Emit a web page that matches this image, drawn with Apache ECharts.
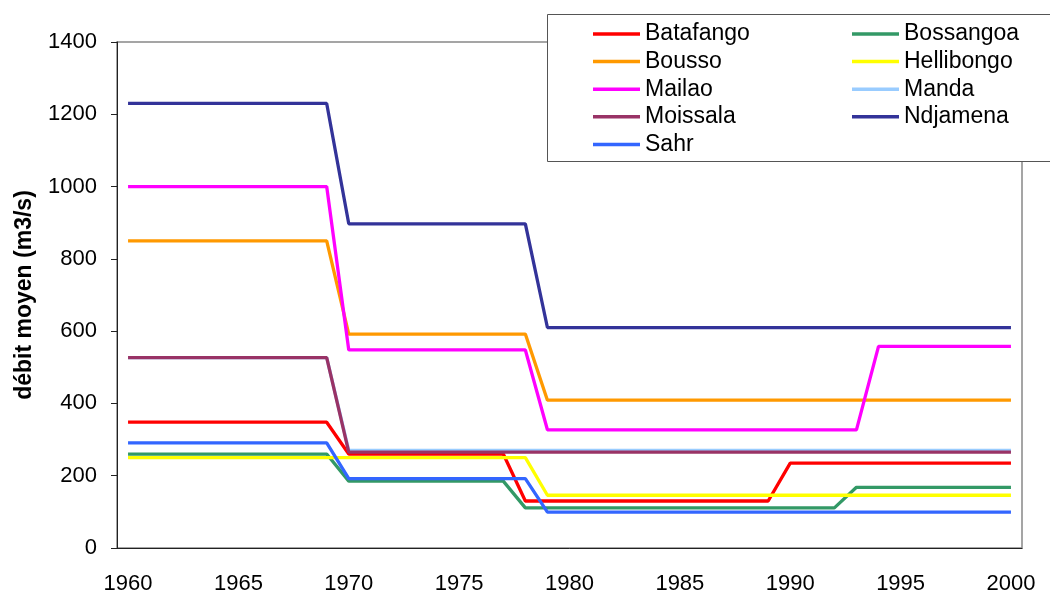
<!DOCTYPE html>
<html>
<head>
<meta charset="utf-8">
<script src="https://cdn.jsdelivr.net/npm/echarts@6/dist/echarts.min.js"></script>
<style>
html,body{margin:0;padding:0;background:#fff;}
#chart{width:1050px;height:595px;}
</style>
</head>
<body>
<div id="chart"></div>
<script>
var years = ['1960','1961','1962','1963','1964','1965','1966','1967','1968','1969',
             '1970','1971','1972','1973','1974','1975','1976','1977','1978','1979',
             '1980','1981','1982','1983','1984','1985','1986','1987','1988','1989',
             '1990','1991','1992','1993','1994','1995','1996','1997','1998','1999','2000'];

var batafango = [348,348,348,348,348,348,348,348,348,348,
                 260,260,260,260,260,260,260,260,130,130,
                 130,130,130,130,130,130,130,130,130,130,
                 235,235,235,235,235,235,235,235,235,235,235];
var bossangoa = [260,260,260,260,260,260,260,260,260,260,
                 185,185,185,185,185,185,185,185,111,111,
                 111,111,111,111,111,111,111,111,111,111,
                 111,111,111,168,168,168,168,168,168,168,168];
var bousso =    [850,850,850,850,850,850,850,850,850,850,
                 592,592,592,592,592,592,592,592,592,409,
                 409,409,409,409,409,409,409,409,409,409,
                 409,409,409,409,409,409,409,409,409,409,409];
var hellibongo =[250,250,250,250,250,250,250,250,250,250,
                 250,250,250,250,250,250,250,250,250,146,
                 146,146,146,146,146,146,146,146,146,146,
                 146,146,146,146,146,146,146,146,146,146,146];
var mailao =    [1000,1000,1000,1000,1000,1000,1000,1000,1000,1000,
                 548,548,548,548,548,548,548,548,548,327,
                 327,327,327,327,327,327,327,327,327,327,
                 327,327,327,327,558,558,558,558,558,558,558];
var manda =     [527,527,527,527,527,527,527,527,527,527,
                 270,270,270,270,270,270,270,270,270,270,
                 270,270,270,270,270,270,270,270,270,270,
                 270,270,270,270,270,270,270,270,270,270,270];
var moissala =  [527,527,527,527,527,527,527,527,527,527,
                 265,265,265,265,265,265,265,265,265,265,
                 265,265,265,265,265,265,265,265,265,265,
                 265,265,265,265,265,265,265,265,265,265,265];
var ndjamena =  [1230,1230,1230,1230,1230,1230,1230,1230,1230,1230,
                 897,897,897,897,897,897,897,897,897,610,
                 610,610,610,610,610,610,610,610,610,610,
                 610,610,610,610,610,610,610,610,610,610,610];
var sahr =      [291,291,291,291,291,291,291,291,291,291,
                 192,192,192,192,192,192,192,192,192,99,
                 99,99,99,99,99,99,99,99,99,99,
                 99,99,99,99,99,99,99,99,99,99,99];

var yTicks = [0,200,400,600,800,1000,1200,1400];

var seriesDefs = [
  {name:'Batafango', data:batafango, color:'#FF0000'},
  {name:'Bossangoa', data:bossangoa, color:'#339966'},
  {name:'Bousso', data:bousso, color:'#FF9900'},
  {name:'Hellibongo', data:hellibongo, color:'#FFFF00'},
  {name:'Mailao', data:mailao, color:'#FF00FF'},
  {name:'Manda', data:manda, color:'#99CCFF'},
  {name:'Moissala', data:moissala, color:'#993366'},
  {name:'Ndjamena', data:ndjamena, color:'#333399'},
  {name:'Sahr', data:sahr, color:'#3366FF'}
];

var chart = echarts.init(document.getElementById('chart'), null, {renderer:'canvas'});
var font = 'Liberation Sans, Arial, sans-serif';
var legendCommon = {
  orient:'vertical',
  icon:'rect',
  itemWidth:47,
  itemHeight:3.5,
  itemGap:3.6,
  itemTextGap:5,
  top:22,
  padding:0,
  selectedMode:false,
  textStyle:{fontFamily:font, fontSize:23, color:'#000', lineHeight:24}
};
var option = {
  animation:false,
  backgroundColor:'#fff',
  grid:{left:117, right:28, top:42, bottom:46, show:true, borderColor:'#888', borderWidth:1.5, backgroundColor:'transparent'},
  graphic:{elements:[{type:'rect', left:547, top:14, z:3,
    shape:{width:503, height:147}, style:{fill:'#fff', stroke:'#555', lineWidth:1}}]},
  legend:[
    Object.assign({}, legendCommon, {left:593, data:['Batafango','Bousso','Mailao','Moissala','Sahr']}),
    Object.assign({}, legendCommon, {left:852, data:['Bossangoa','Hellibongo','Manda','Ndjamena']})
  ],
  xAxis:{
    type:'category', data:years, boundaryGap:true,
    axisLine:{lineStyle:{color:'#222', width:1}},
    axisTick:{interval:4, length:6, lineStyle:{color:'#222'}},
    axisLabel:{interval:4, fontFamily:font, fontSize:22, color:'#000', margin:25},
    splitLine:{show:false}
  },
  yAxis:{
    type:'value', min:yTicks[0], max:yTicks[yTicks.length-1], interval:200,
    name:'débit moyen (m3/s)', nameLocation:'middle', nameGap:81, nameRotate:90,
    nameTextStyle:{fontFamily:font, fontSize:23, fontWeight:'bold', color:'#000'},
    axisLine:{show:true, lineStyle:{color:'#222', width:1}},
    axisTick:{show:true, length:6, lineStyle:{color:'#222'}},
    axisLabel:{fontFamily:font, fontSize:22, color:'#000', margin:20,
      formatter:function(v){ return String(v); }},
    splitLine:{show:false}
  },
  series: seriesDefs.map(function(s){
    return {name:s.name, type:'line', data:s.data, symbol:'none', color:s.color,
      lineStyle:{color:s.color, width:3.3}, itemStyle:{color:s.color}};
  })
};
chart.setOption(option);
</script>
</body>
</html>
